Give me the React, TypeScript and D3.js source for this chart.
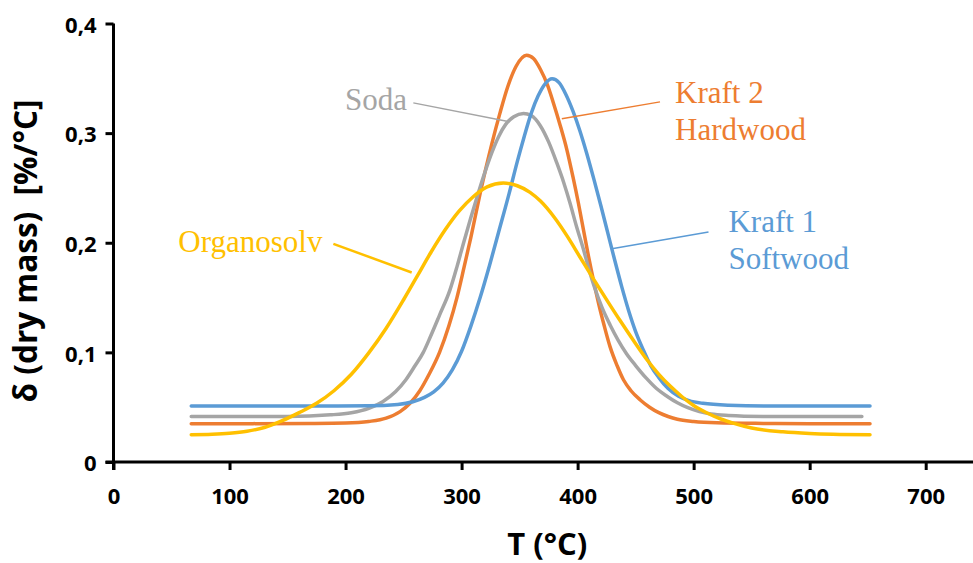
import React, { useRef, useEffect } from 'react';
import * as d3 from 'd3';

// temperature (°C) / dtg (%/°C)
const T_KRAFT2 = [67, 120, 170, 200, 220, 235, 247, 256, 264, 272, 281, 289, 296, 302, 308, 316, 326, 333, 340, 347, 356, 362, 368, 374, 379, 385, 390.7, 396, 400.7, 405, 409.3, 414, 418, 423, 428, 434, 439.5, 446, 454, 462, 470, 478, 486, 500, 520, 560, 600, 652];
const V_KRAFT2 = [0.035, 0.035, 0.0352, 0.0356, 0.037, 0.04, 0.046, 0.054, 0.065, 0.08, 0.1, 0.124, 0.15, 0.177, 0.205, 0.245, 0.29, 0.318, 0.343, 0.361, 0.371, 0.368, 0.358, 0.344, 0.328, 0.307, 0.285, 0.26, 0.236, 0.212, 0.188, 0.164, 0.145, 0.124, 0.105, 0.088, 0.075, 0.065, 0.0566, 0.05, 0.045, 0.0415, 0.039, 0.037, 0.0358, 0.0352, 0.035, 0.035];

const T_SODA = [67, 150, 187, 205, 220, 232, 243, 252, 260, 267, 273, 281, 290, 296, 302, 308, 314, 320, 326, 332, 338, 345, 353.3, 360, 367.7, 375, 382, 388, 393.5, 399, 405, 410, 415, 421, 428, 435, 442, 450, 459.6, 468, 477, 486, 495, 505, 515, 530, 560, 600, 645];
const V_SODA = [0.0414, 0.0415, 0.043, 0.045, 0.049, 0.055, 0.064, 0.075, 0.088, 0.1, 0.114, 0.134, 0.157, 0.178, 0.201, 0.223, 0.244, 0.264, 0.282, 0.297, 0.308, 0.315, 0.318, 0.316, 0.307, 0.292, 0.273, 0.255, 0.236, 0.215, 0.194, 0.175, 0.158, 0.141, 0.125, 0.111, 0.099, 0.088, 0.076, 0.067, 0.06, 0.054, 0.0495, 0.046, 0.0438, 0.0425, 0.0416, 0.0414, 0.0414];

const T_KRAFT1 = [67, 150, 220, 245, 258, 268, 276, 284, 292, 300, 308, 316, 324, 332, 341, 348, 354, 360, 366, 372, 378, 384, 390, 396, 402, 408, 414, 420, 426, 432, 438, 444, 450, 456.7, 463, 470, 478, 487, 496, 508, 530, 570, 652];
const V_KRAFT1 = [0.051, 0.051, 0.0512, 0.0525, 0.055, 0.059, 0.064, 0.072, 0.084, 0.101, 0.124, 0.15, 0.179, 0.21, 0.245, 0.274, 0.297, 0.318, 0.334, 0.345, 0.3495, 0.346, 0.335, 0.32, 0.302, 0.281, 0.258, 0.234, 0.209, 0.184, 0.16, 0.138, 0.119, 0.102, 0.088, 0.077, 0.067, 0.06, 0.056, 0.0535, 0.0518, 0.051, 0.051];

const T_ORGANO = [67, 85, 100, 115, 130, 145, 160, 175, 190, 205, 220, 235, 250, 262, 274, 286, 298, 310, 322, 336, 348, 359, 368, 380, 391, 402, 413.6, 425, 436.6, 448, 459.6, 470, 480, 490, 500, 512, 524, 534, 550, 577, 600, 620, 652];
const V_ORGANO = [0.0249, 0.0253, 0.0262, 0.028, 0.0315, 0.0375, 0.045, 0.0535, 0.065, 0.08, 0.0995, 0.122, 0.148, 0.17, 0.192, 0.212, 0.229, 0.242, 0.251, 0.2545, 0.252, 0.246, 0.238, 0.223, 0.206, 0.187, 0.167, 0.148, 0.129, 0.111, 0.0935, 0.08, 0.069, 0.0595, 0.0515, 0.0445, 0.039, 0.0355, 0.031, 0.0275, 0.026, 0.0253, 0.0249];

const X_TICKS = [0, 100, 200, 300, 400, 500, 600, 700];
const Y_TICKS = [0, 0.1, 0.2, 0.3, 0.4];

const series = [
  { name: 'Kraft 2', color: '#ED7D31', t: T_KRAFT2, v: V_KRAFT2 },
  { name: 'Soda', color: '#A5A5A5', t: T_SODA, v: V_SODA },
  { name: 'Kraft 1', color: '#5B9BD5', t: T_KRAFT1, v: V_KRAFT1 },
  { name: 'Organosolv', color: '#FFC000', t: T_ORGANO, v: V_ORGANO },
];

// callout labels, anchored in data units
const callouts = [
  { lines: ['Soda'], color: '#A5A5A5', tx: 199.6, ty: 0.3215, from: [258.4, 0.3276], to: [339, 0.3108] },
  { lines: ['Organosolv'], color: '#FFC000', tx: 55.9, ty: 0.192, from: [189.5, 0.199], to: [257, 0.1729], lw: 2.5 },
  { lines: ['Kraft 2', 'Hardwood'], color: '#ED7D31', tx: 484, ty: 0.3276, from: [471, 0.3285], to: [386.4, 0.3132] },
  { lines: ['Kraft 1', 'Softwood'], color: '#5B9BD5', tx: 530, ty: 0.2094, from: [512.8, 0.2098], to: [429.5, 0.1945] },
];

export default function App() {
  const svgRef = useRef<SVGSVGElement>(null);

  useEffect(() => {
    const svg = d3.select(svgRef.current);
    const width = 973;
    const height = 563;
    svg.selectAll('*').remove();

    const x = d3.scaleLinear().domain([0, 700]).range([113.5, 925.7]);
    const y = d3.scaleLinear().domain([0, 0.4]).range([462, 23.5]);
    const tickFont = '"Open Sans", sans-serif';

    // curves
    const line = d3.line<[number, number]>()
      .x(d => x(d[0]))
      .y(d => y(d[1]))
      .curve(d3.curveMonotoneX);

    series.forEach(s => {
      const pts = s.t.map((t, i) => [t, s.v[i]] as [number, number]);
      svg.append('path')
        .datum(pts)
        .attr('fill', 'none')
        .attr('stroke', s.color)
        .attr('stroke-width', 3.5)
        .attr('stroke-linecap', 'round')
        .attr('d', line);
    });

    // axes
    const gx = svg.append('g')
      .attr('transform', `translate(0,${y(0)})`)
      .call(d3.axisBottom(x).tickValues(X_TICKS).tickSize(8).tickSizeOuter(0).tickPadding(18));
    gx.select('.domain').remove();
    gx.selectAll('line').attr('stroke', '#000').attr('stroke-width', 3);
    gx.selectAll('text')
      .attr('font-family', tickFont)
      .attr('font-weight', 700)
      .attr('font-size', 22)
      .attr('fill', '#000');

    const gy = svg.append('g')
      .attr('transform', `translate(${x(0)},0)`)
      .call(d3.axisLeft(y).tickValues(Y_TICKS).tickSize(8).tickSizeOuter(0).tickPadding(9)
        .tickFormat(d => (+d === 0 ? '0' : d3.format('.1f')(+d).replace('.', ','))));
    gy.select('.domain').remove();
    gy.selectAll('line').attr('stroke', '#000').attr('stroke-width', 3);
    gy.selectAll('text')
      .attr('font-family', tickFont)
      .attr('font-weight', 700)
      .attr('font-size', 22)
      .attr('dy', '0.4em')
      .attr('fill', '#000');

    svg.append('line')
      .attr('x1', x(0) - 8).attr('x2', width)
      .attr('y1', y(0)).attr('y2', y(0))
      .attr('stroke', '#000').attr('stroke-width', 3);
    svg.append('line')
      .attr('x1', x(0)).attr('x2', x(0))
      .attr('y1', y(0.4)).attr('y2', y(0) + 8)
      .attr('stroke', '#000').attr('stroke-width', 3);

    // axis titles
    svg.append('text')
      .attr('x', (x(0) + width) / 2 + 4)
      .attr('y', 555)
      .attr('text-anchor', 'middle')
      .attr('font-family', tickFont)
      .attr('font-weight', 700)
      .attr('font-size', 31)
      .text('T (°C)');

    svg.append('text')
      .attr('transform', 'translate(37,251) rotate(-90)')
      .attr('text-anchor', 'middle')
      .attr('font-family', tickFont)
      .attr('font-weight', 700)
      .attr('font-size', 31.5)
      .style('white-space', 'pre')
      .text('δ (dry mass)  [%/°C]');

    // callouts
    callouts.forEach(c => {
      svg.append('line')
        .attr('x1', x(c.from[0])).attr('y1', y(c.from[1]))
        .attr('x2', x(c.to[0])).attr('y2', y(c.to[1]))
        .attr('stroke', c.color)
        .attr('stroke-width', c.lw || 1.5);
      const t = svg.append('text')
        .attr('x', x(c.tx))
        .attr('y', y(c.ty))
        .attr('font-family', '"Liberation Serif", "Times New Roman", serif')
        .attr('font-size', 31)
        .attr('fill', c.color);
      c.lines.forEach((l, i) => {
        t.append('tspan')
          .attr('x', x(c.tx))
          .attr('dy', i === 0 ? 0 : 37)
          .text(l);
      });
    });

    svg.attr('viewBox', `0 0 ${width} ${height}`);
  }, []);

  return (
    <svg
      ref={svgRef}
      width={973}
      height={563}
      style={{ position: 'absolute', left: 0, top: 0, background: '#fff' }}
    />
  );
}
